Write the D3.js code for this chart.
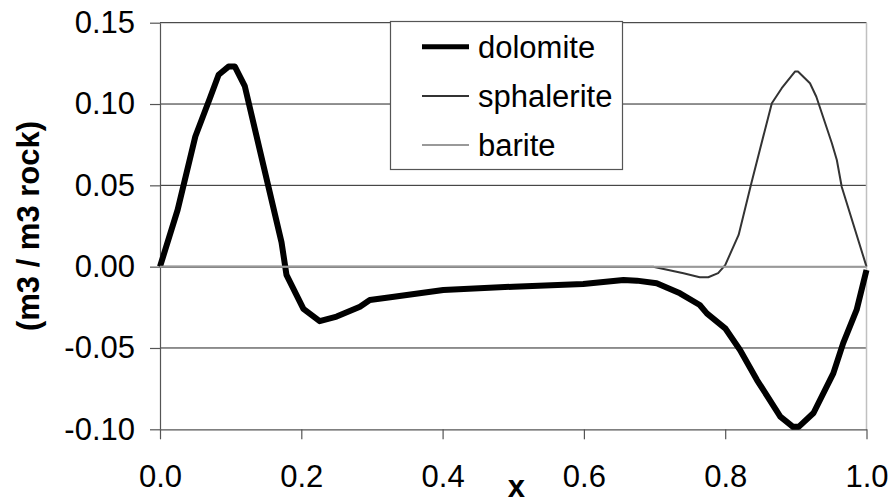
<!DOCTYPE html>
<html>
<head>
<meta charset="utf-8">
<script src="https://cdn.jsdelivr.net/npm/d3@7"></script>
<style>
  html, body { margin: 0; padding: 0; background: #fff; }
  svg { display: block; font-family: "Liberation Sans", Arial, sans-serif; }
</style>
</head>
<body>
<svg id="chart" width="891" height="500"></svg>
<script>
// Volume change profiles along x for each mineral
const dolomiteX = [0, 0.025, 0.05, 0.071, 0.083, 0.097, 0.106, 0.12, 0.146, 0.172, 0.179, 0.203, 0.226,
  0.25, 0.283, 0.297, 0.326, 0.401, 0.5, 0.599, 0.656, 0.675, 0.703, 0.736, 0.764, 0.774, 0.8, 0.821,
  0.845, 0.878, 0.896, 0.904, 0.925, 0.953, 0.967, 0.986, 1.0];
const dolomiteY = [0, 0.035, 0.080, 0.104, 0.118, 0.123, 0.123, 0.111, 0.063, 0.015, -0.005, -0.026, -0.0335,
  -0.0307, -0.0246, -0.0205, -0.0188, -0.0143, -0.0123, -0.0106, -0.0082, -0.0086, -0.0102, -0.0164, -0.0236, -0.0287, -0.0379, -0.0512,
  -0.0697, -0.0922, -0.0985, -0.0985, -0.090, -0.0656, -0.047, -0.0266, -0.002];

const sphaleriteX = [0, 0.698, 0.741, 0.764, 0.776, 0.790, 0.80, 0.819, 0.837, 0.849, 0.866, 0.880, 0.899,
  0.903, 0.920, 0.929, 0.951, 0.958, 0.965, 1.0];
const sphaleriteY = [0, 0, -0.004, -0.0065, -0.0065, -0.004, 0.001, 0.0195, 0.0513, 0.0718, 0.1005, 0.1097, 0.120,
  0.120, 0.1128, 0.1045, 0.0759, 0.0656, 0.049, 0];

const bariteX = [0, 1.0];
const bariteY = [0, 0];

const seriesNames = ["dolomite", "sphalerite", "barite"];
const xTicks = [0, 0.2, 0.4, 0.6, 0.8, 1.0];
const yTicks = [-0.10, -0.05, 0.00, 0.05, 0.10, 0.15];

const series = [
  { name: seriesNames[0], xs: dolomiteX, ys: dolomiteY, color: "#000", width: 6, legendWidth: 5 },
  { name: seriesNames[1], xs: sphaleriteX, ys: sphaleriteY, color: "#333", width: 2, legendWidth: 2 },
  { name: seriesNames[2], xs: bariteX, ys: bariteY, color: "#999", width: 2, legendWidth: 2 }
];

const svg = d3.select("#chart");
const plotLeft = 160, plotRight = 866.5, plotTop = 22.7, plotBottom = 429.3;
const fontSize = "31px";

const x = d3.scaleLinear().domain([0, 1]).range([plotLeft, plotRight]);
const y = d3.scaleLinear().domain([-0.10, 0.15]).range([plotBottom, plotTop]);

// horizontal gridlines
svg.append("g")
  .selectAll("line")
  .data(yTicks.filter(d => d !== -0.10 && d !== 0))
  .join("line")
  .attr("x1", plotLeft).attr("x2", plotRight)
  .attr("y1", d => y(d)).attr("y2", d => y(d))
  .attr("stroke", "#222").attr("stroke-width", 1);

// zero line
svg.append("line")
  .attr("x1", plotLeft).attr("x2", plotRight)
  .attr("y1", y(0)).attr("y2", y(0))
  .attr("stroke", "#888").attr("stroke-width", 1.5);

// right edge of the plot area
svg.append("line")
  .attr("x1", plotRight).attr("x2", plotRight)
  .attr("y1", plotTop).attr("y2", plotBottom)
  .attr("stroke", "#c0c0c0").attr("stroke-width", 1.5);

// axes
const yAxis = d3.axisLeft(y).tickValues(yTicks)
  .tickSizeInner(10).tickSizeOuter(0).tickPadding(15);
const xAxis = d3.axisBottom(x).tickValues(xTicks)
  .tickSizeInner(10).tickSizeOuter(0).tickPadding(26);

const gy = svg.append("g").attr("transform", `translate(${plotLeft},0)`).call(yAxis);
const gx = svg.append("g").attr("transform", `translate(0,${plotBottom})`).call(xAxis);

[gx, gy].forEach(g => {
  g.select(".domain").attr("stroke", "#555").attr("stroke-width", 1.2);
  g.selectAll(".tick line").attr("stroke", "#555").attr("stroke-width", 1.2);
  g.selectAll(".tick text").attr("fill", "#000").style("font-size", fontSize)
    .style("font-family", "'Liberation Sans', Arial, sans-serif");
});
gy.selectAll(".tick text").text(d => d3.format(".2f")(d).replace("\u2212", "-"));
gx.selectAll(".tick text").text(d => d3.format(".1f")(d).replace("\u2212", "-"));

// series lines
const line = d3.line().curve(d3.curveLinear);
svg.append("g")
  .selectAll("path")
  .data(series)
  .join("path")
  .attr("d", s => line(s.xs.map((v, i) => [x(v), y(s.ys[i])])))
  .attr("fill", "none")
  .attr("stroke", s => s.color)
  .attr("stroke-width", s => s.width)
  .attr("stroke-linejoin", "round")
  .attr("stroke-linecap", "butt");

// axis titles
svg.append("text")
  .attr("transform", `translate(39,${(plotTop + plotBottom) / 2}) rotate(-90)`)
  .attr("text-anchor", "middle")
  .style("font-size", fontSize).style("font-weight", "bold")
  .text("(m3 / m3 rock)");

svg.append("text")
  .attr("x", (plotLeft + plotRight) / 2 + 3).attr("y", 497)
  .attr("text-anchor", "middle")
  .style("font-size", fontSize).style("font-weight", "bold")
  .text("x");

// legend
const legend = svg.append("g");
legend.append("rect")
  .attr("x", 390.5).attr("y", 21.5).attr("width", 232).attr("height", 148)
  .attr("fill", "#fff").attr("stroke", "#555").attr("stroke-width", 1.2);
const rowY = [46.7, 96, 145];
series.forEach((s, i) => {
  legend.append("line")
    .attr("x1", 422).attr("x2", 469)
    .attr("y1", rowY[i]).attr("y2", rowY[i])
    .attr("stroke", s.color).attr("stroke-width", s.legendWidth);
  legend.append("text")
    .attr("x", 478).attr("y", rowY[i]).attr("dy", "0.35em")
    .style("font-size", fontSize)
    .text(s.name);
});
</script>
</body>
</html>
